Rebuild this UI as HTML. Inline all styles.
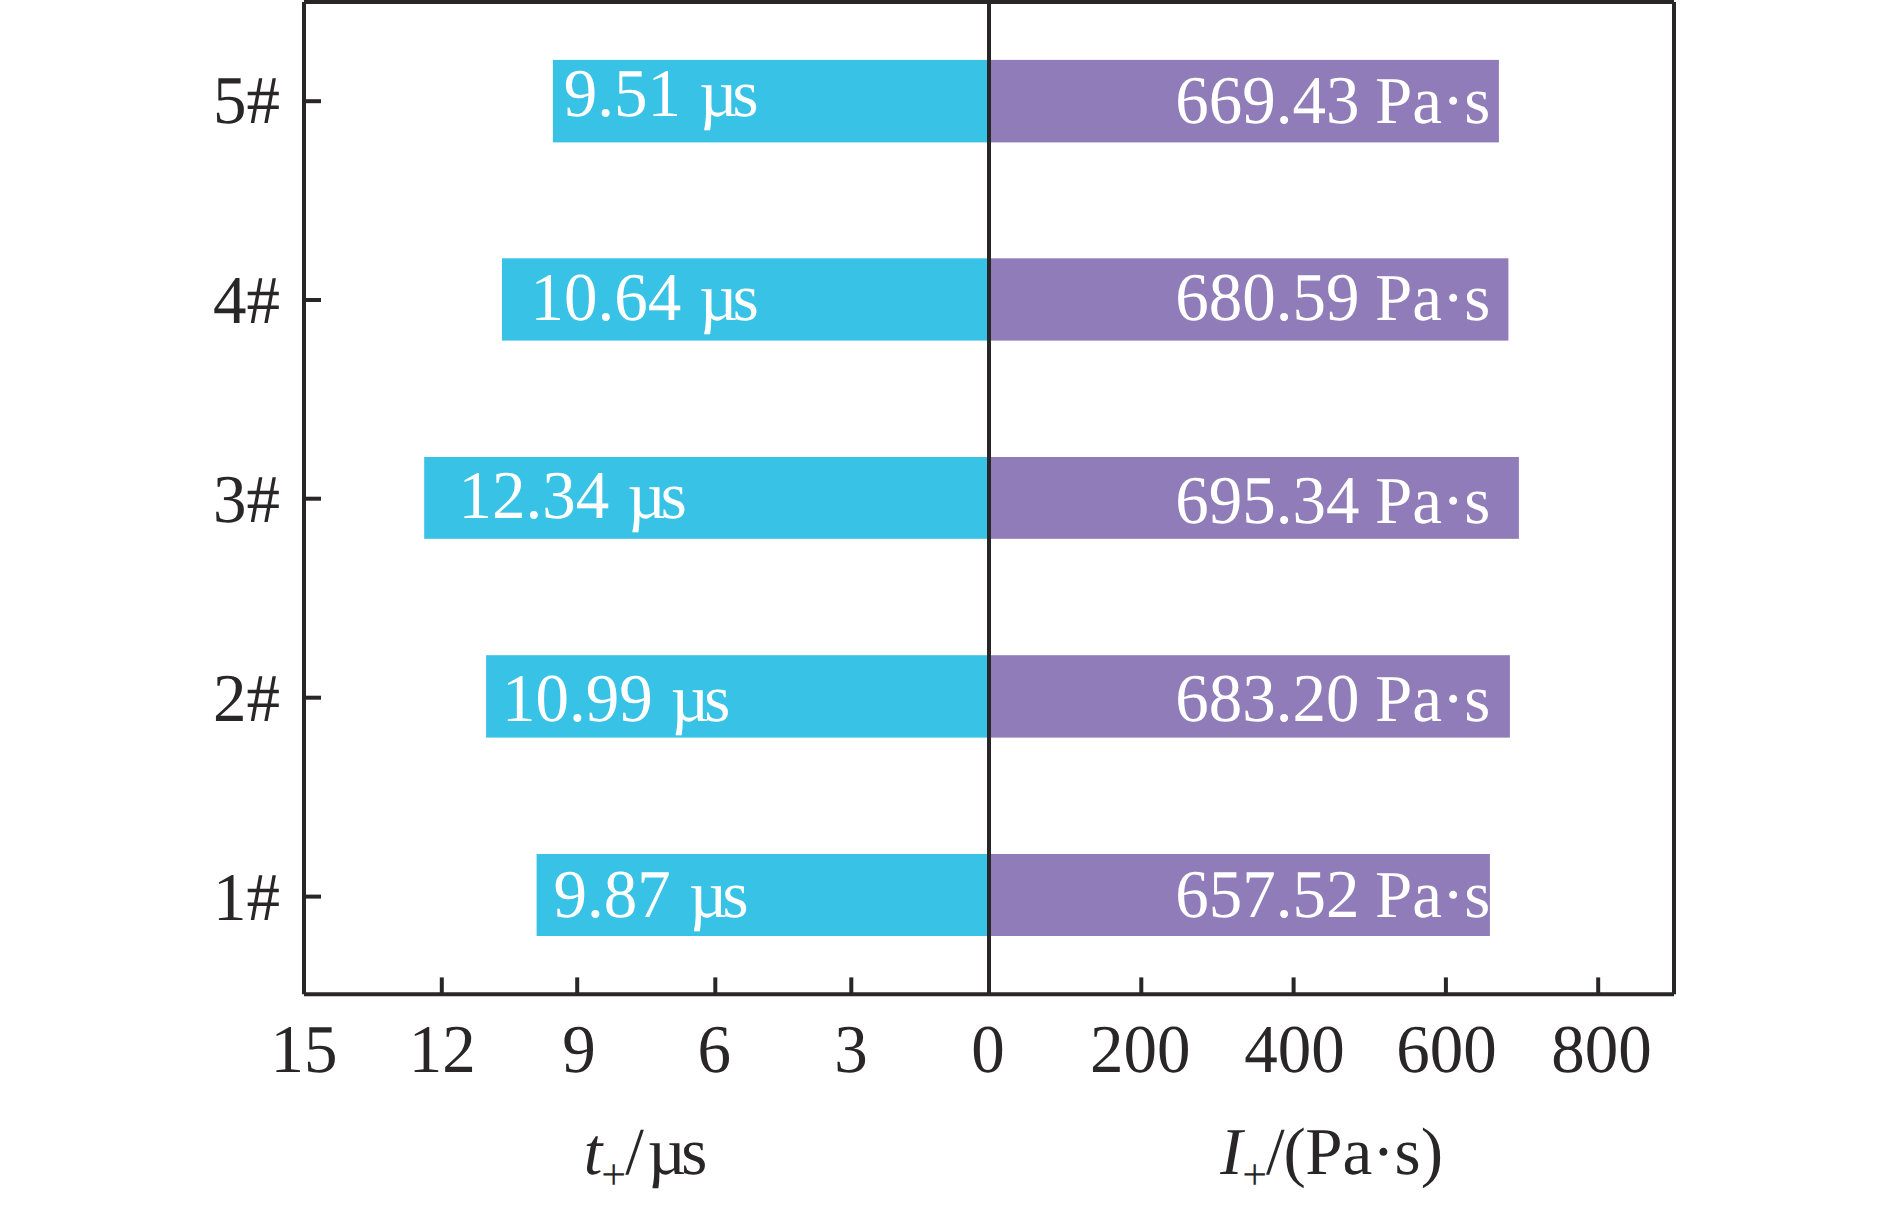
<!DOCTYPE html>
<html lang="en">
<head>
<meta charset="utf-8">
<title>Positive phase duration and impulse</title>
<style>
html,body{margin:0;padding:0;background:#fff;}
body{width:1890px;height:1208px;overflow:hidden;}
svg{display:block;}
text{font-family:"Liberation Serif","DejaVu Serif",serif;font-size:67px;text-rendering:geometricPrecision;}
.k{fill:#282627;}
.w{fill:#fff;}
.i{font-style:italic;}
.sub{font-size:44px;}
</style>
</head>
<body>
<svg width="1890" height="1208" viewBox="0 0 1890 1208">
<rect x="0" y="0" width="1890" height="1208" fill="#fff"/>

<g>
<rect x="552.9" y="59.9" width="436.1" height="82.5" fill="#38c3e6"/>
<rect x="989.0" y="59.9" width="509.9" height="82.5" fill="#8f7cb8"/>
<rect x="502.0" y="258.3" width="487.0" height="82.3" fill="#38c3e6"/>
<rect x="989.0" y="258.3" width="519.4" height="82.3" fill="#8f7cb8"/>
<rect x="424.2" y="457.0" width="564.8" height="81.8" fill="#38c3e6"/>
<rect x="989.0" y="457.0" width="529.9" height="81.8" fill="#8f7cb8"/>
<rect x="486.1" y="655.2" width="502.9" height="82.4" fill="#38c3e6"/>
<rect x="989.0" y="655.2" width="520.9" height="82.4" fill="#8f7cb8"/>
<rect x="536.6" y="854.0" width="452.4" height="82.0" fill="#38c3e6"/>
<rect x="989.0" y="854.0" width="500.9" height="82.0" fill="#8f7cb8"/>
</g>
<g stroke="#282627" stroke-width="4" fill="none">
<line x1="304.0" y1="2.1" x2="1674.0" y2="2.1"/>
<line x1="304.0" y1="994.2" x2="1674.0" y2="994.2"/>
<line x1="304.0" y1="2.1" x2="304.0" y2="994.2"/>
<line x1="1674.0" y1="2.1" x2="1674.0" y2="994.2"/>
<line x1="989.0" y1="2.1" x2="989.0" y2="994.2"/>
<line x1="304.0" y1="101.2" x2="321.0" y2="101.2"/>
<line x1="304.0" y1="300.0" x2="321.0" y2="300.0"/>
<line x1="304.0" y1="498.7" x2="321.0" y2="498.7"/>
<line x1="304.0" y1="697.7" x2="321.0" y2="697.7"/>
<line x1="304.0" y1="896.6" x2="321.0" y2="896.6"/>
<line x1="441.8" y1="994.2" x2="441.8" y2="977.4"/>
<line x1="577.2" y1="994.2" x2="577.2" y2="977.4"/>
<line x1="715.3" y1="994.2" x2="715.3" y2="977.4"/>
<line x1="851.3" y1="994.2" x2="851.3" y2="977.4"/>
<line x1="1141.3" y1="994.2" x2="1141.3" y2="977.4"/>
<line x1="1293.6" y1="994.2" x2="1293.6" y2="977.4"/>
<line x1="1445.9" y1="994.2" x2="1445.9" y2="977.4"/>
<line x1="1598.2" y1="994.2" x2="1598.2" y2="977.4"/>
</g>
<g class="k" text-anchor="end">
<text transform="translate(280 122.9) scale(1 1.02)">5#</text>
<text transform="translate(280 322.5) scale(1 1.02)">4#</text>
<text transform="translate(280 521.9) scale(1 1.02)">3#</text>
<text transform="translate(280 720.9) scale(1 1.02)">2#</text>
<text transform="translate(280 919.9) scale(1 1.02)">1#</text>
</g>
<g class="k" text-anchor="middle">
<text transform="translate(304.0 1072.1) scale(1 1.02)">15</text>
<text transform="translate(442.2 1072.1) scale(1 1.02)">12</text>
<text transform="translate(578.9 1072.1) scale(1 1.02)">9</text>
<text transform="translate(714.2 1072.1) scale(1 1.02)">6</text>
<text transform="translate(850.9 1072.1) scale(1 1.02)">3</text>
<text transform="translate(987.9 1072.1) scale(1 1.02)">0</text>
<text transform="translate(1140.3 1072.1) scale(1 1.02)">200</text>
<text transform="translate(1294.4 1072.1) scale(1 1.02)">400</text>
<text transform="translate(1446.5 1072.1) scale(1 1.02)">600</text>
<text transform="translate(1601.4 1072.1) scale(1 1.02)">800</text>
</g>
<g class="w">
<text transform="translate(563.8 116.0) scale(1 1.02)">9.51</text>
<text x="699.2" y="116.0">µ<tspan dx="-5.2">s</tspan></text>
<text transform="translate(1175.2 122.8) scale(1 1.02)">669.43</text>
<text x="1375.0" y="122.8">Pa·s</text>
<text transform="translate(530.4 320.1) scale(1 1.02)">10.64</text>
<text x="699.3" y="320.1">µ<tspan dx="-5.2">s</tspan></text>
<text transform="translate(1175.2 319.8) scale(1 1.02)">680.59</text>
<text x="1375.0" y="319.8">Pa·s</text>
<text transform="translate(458.5 518.2) scale(1 1.02)">12.34</text>
<text x="627.4" y="518.2">µ<tspan dx="-5.2">s</tspan></text>
<text transform="translate(1175.2 522.5) scale(1 1.02)">695.34</text>
<text x="1375.0" y="522.5">Pa·s</text>
<text transform="translate(501.9 721.0) scale(1 1.02)">10.99</text>
<text x="670.8" y="721.0">µ<tspan dx="-5.2">s</tspan></text>
<text transform="translate(1175.2 720.9) scale(1 1.02)">683.20</text>
<text x="1375.0" y="720.9">Pa·s</text>
<text transform="translate(553.6 917.0) scale(1 1.02)">9.87</text>
<text x="689.0" y="917.0">µ<tspan dx="-5.2">s</tspan></text>
<text transform="translate(1175.2 917.1) scale(1 1.02)">657.52</text>
<text x="1375.0" y="917.1">Pa·s</text>
</g>
<g class="k">
<text x="583.8" y="1174.3"><tspan class="i">t</tspan><tspan class="sub" dx="-1.1" dy="15.1">+</tspan><tspan dx="-0.8" dy="-15.1">/</tspan><tspan dx="3.5">µ</tspan><tspan dx="-4.8">s</tspan></text>
<text x="1220.3" y="1174.3"><tspan class="i">I</tspan><tspan class="sub" dx="-0.4" dy="15.1">+</tspan><tspan dx="-1.1" dy="-15.1">/</tspan><tspan dx="-1">(</tspan><tspan dx="-0.6">Pa·s)</tspan></text>
</g>
</svg>
</body>
</html>
